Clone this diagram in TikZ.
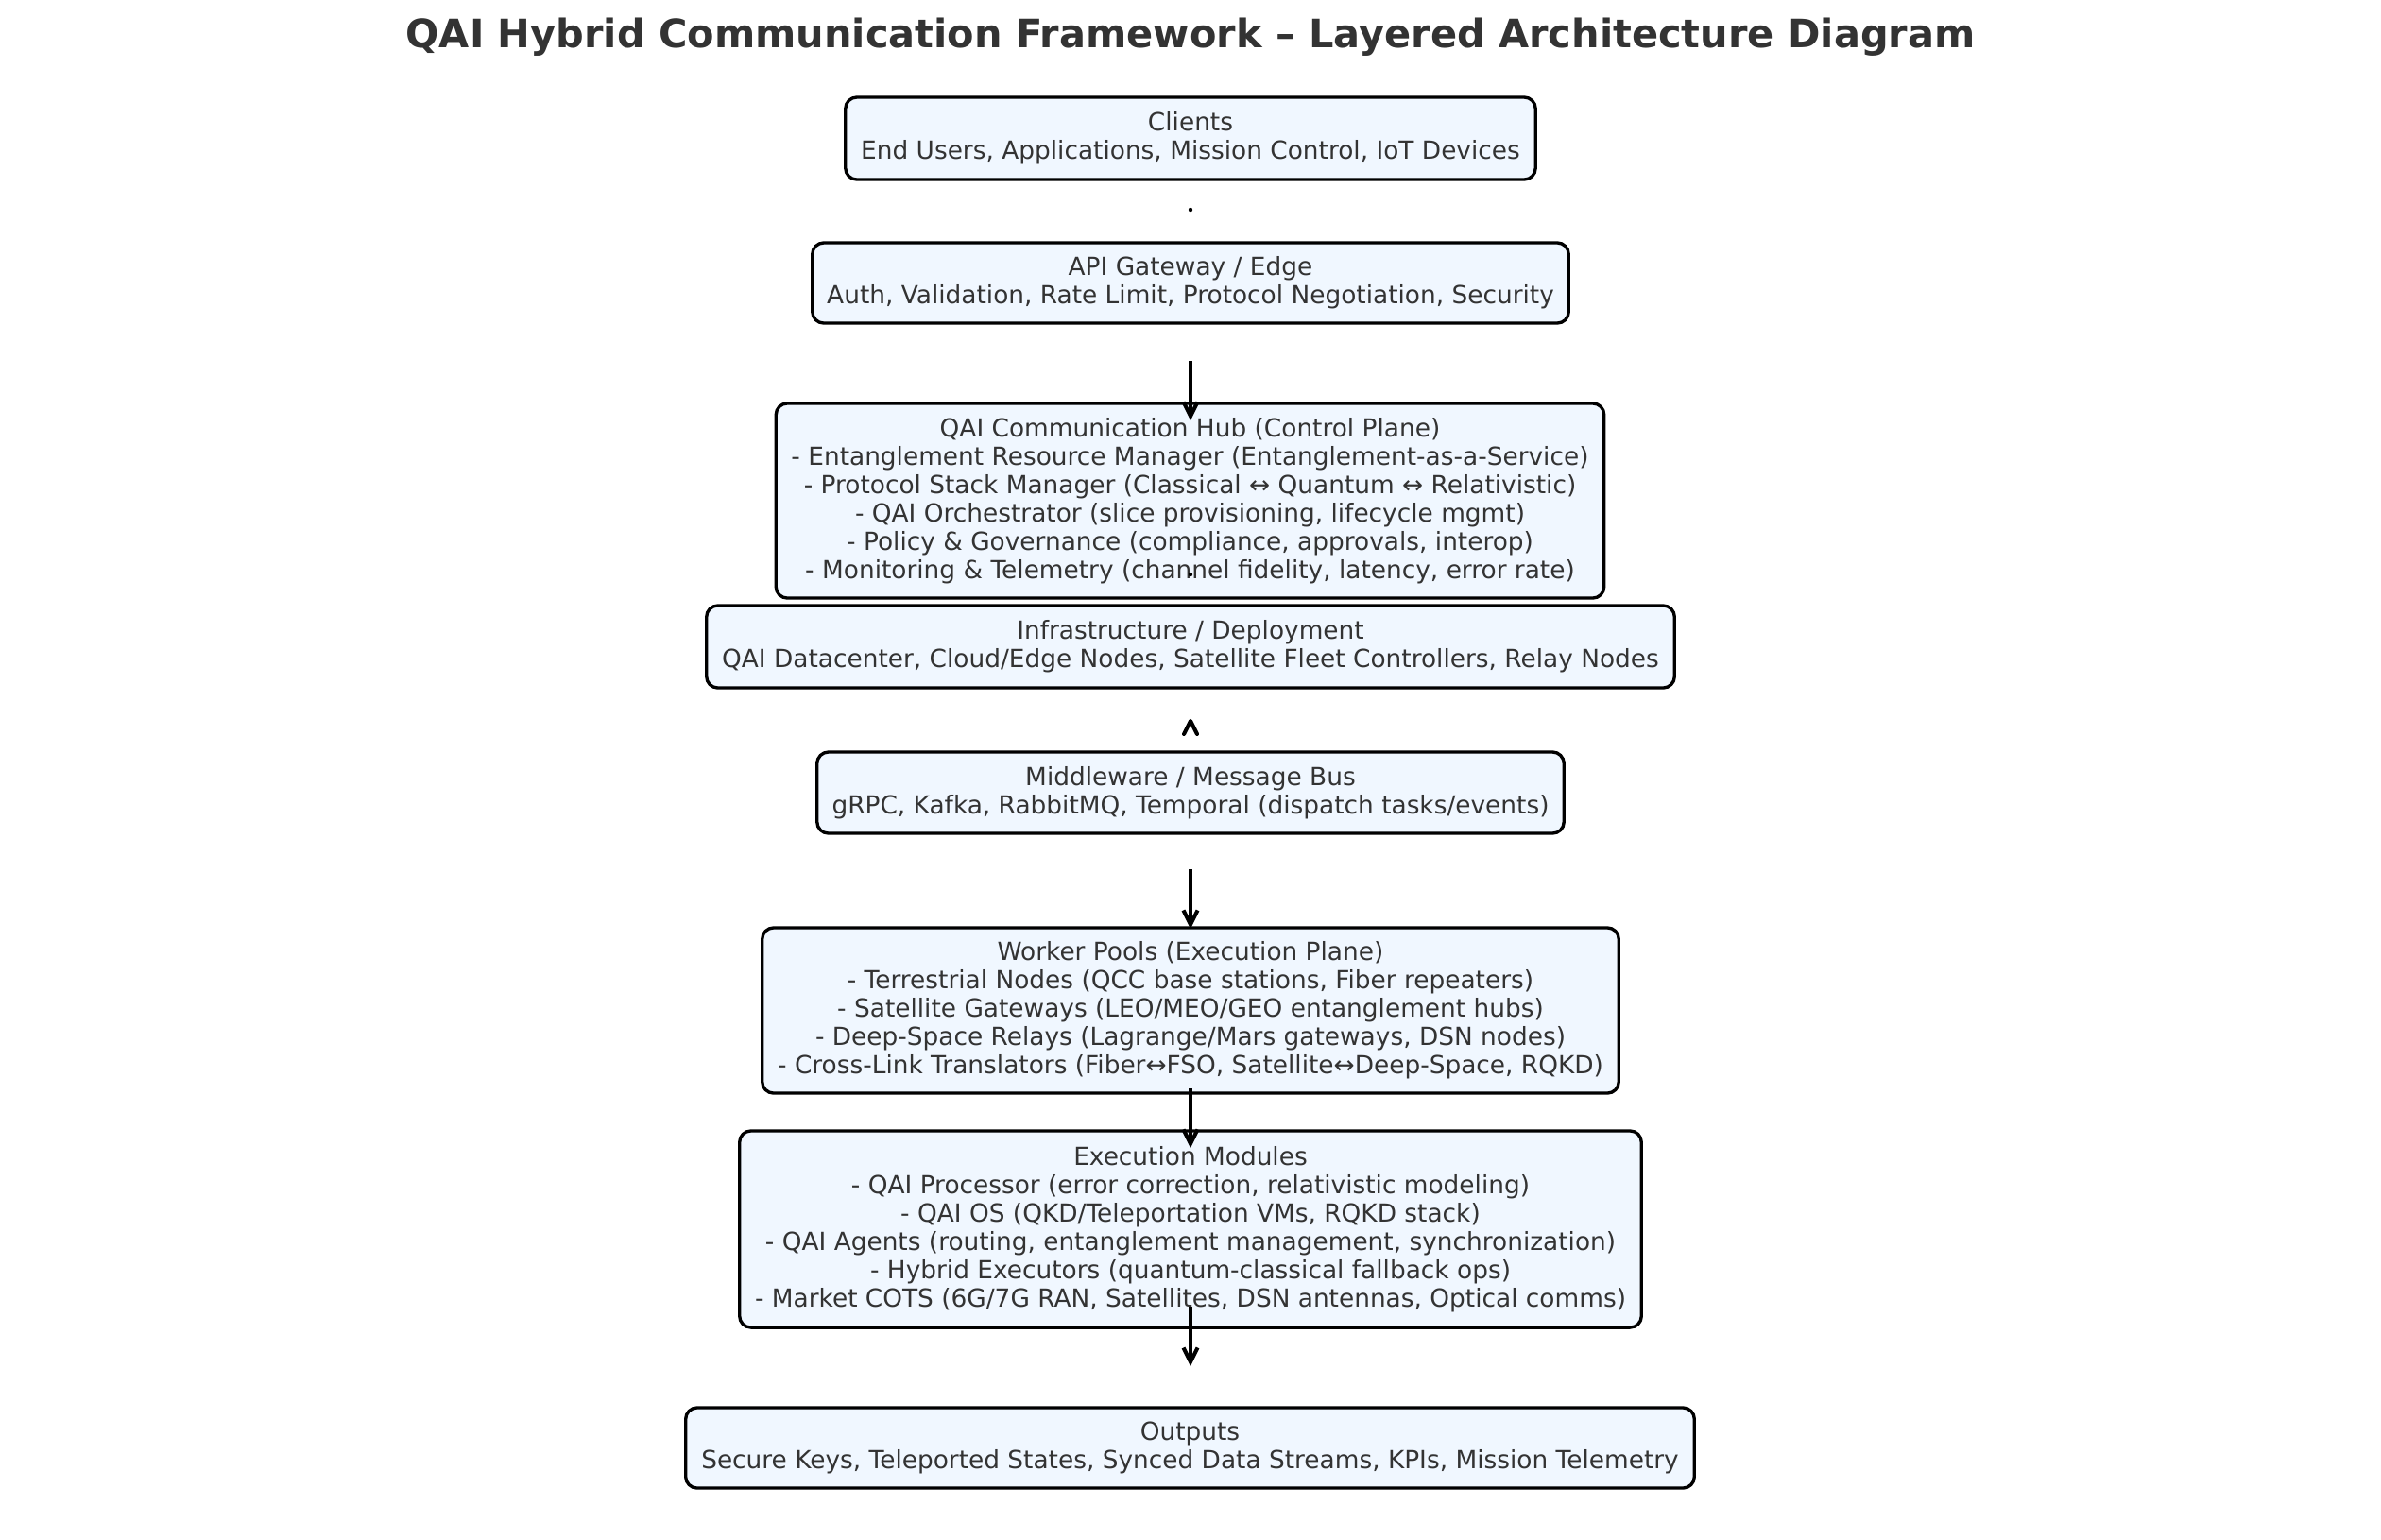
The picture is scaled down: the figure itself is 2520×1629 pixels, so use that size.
\documentclass[tikz,border=0pt]{standalone}
\usepackage{fontspec}
\setmainfont{DejaVu Sans}
\usetikzlibrary{arrows.meta}
\definecolor{boxfill}{HTML}{F0F7FF}
\definecolor{txt}{HTML}{333333}
\begin{document}
\begin{tikzpicture}[x=0.01cm,y=-0.01cm,
  layerbox/.style={draw=black, line width=0.95pt, fill=boxfill, rounded corners=0.12cm,
     align=center, text=txt, font=\fontsize{7.5}{8.55}\selectfont, inner sep=0pt},
  flow/.style={line width=1.15pt, -{Straight Barb[length=0.15cm,width=0.15cm,line width=1.15pt]}}]
\useasboundingbox (0,0) rectangle (2520,1629);
\node[text=txt, font=\fontsize{11.8}{13}\selectfont\bfseries] (title) at (1260,39)
  {QAI Hybrid Communication Framework – Layered Architecture Diagram};
\node[layerbox, minimum width=7.30cm, minimum height=0.87cm] (clients) at (1260,146.5)
  {Clients\\End Users, Applications, Mission Control, IoT Devices};
\node[layerbox, minimum width=8.00cm, minimum height=0.85cm] (api) at (1260,299.5)
  {API Gateway / Edge\\Auth, Validation, Rate Limit, Protocol Negotiation, Security};
\node[layerbox, minimum width=8.76cm, minimum height=2.06cm] (hub) at (1259.5,530)
  {QAI Communication Hub (Control Plane)\\
   - Entanglement Resource Manager (Entanglement-as-a-Service)\\
   - Protocol Stack Manager (Classical ↔ Quantum ↔ Relativistic)\\
   - QAI Orchestrator (slice provisioning, lifecycle mgmt)\\
   - Policy \& Governance (compliance, approvals, interop)\\
   - Monitoring \& Telemetry (channel fidelity, latency, error rate)};
\node[layerbox, minimum width=10.24cm, minimum height=0.87cm] (infra) at (1260,684.5)
  {Infrastructure / Deployment\\QAI Datacenter, Cloud/Edge Nodes, Satellite Fleet Controllers, Relay Nodes};
\node[layerbox, minimum width=7.90cm, minimum height=0.86cm] (mw) at (1260,839)
  {Middleware / Message Bus\\gRPC, Kafka, RabbitMQ, Temporal (dispatch tasks/events)};
\node[layerbox, minimum width=9.06cm, minimum height=1.75cm] (worker) at (1260,1069.5)
  {Worker Pools (Execution Plane)\\
   - Terrestrial Nodes (QCC base stations, Fiber repeaters)\\
   - Satellite Gateways (LEO/MEO/GEO entanglement hubs)\\
   - Deep-Space Relays (Lagrange/Mars gateways, DSN nodes)\\
   - Cross-Link Translators (Fiber↔FSO, Satellite↔Deep-Space, RQKD)};
\node[layerbox, minimum width=9.54cm, minimum height=2.08cm] (exec) at (1260,1301)
  {Execution Modules\\
   - QAI Processor (error correction, relativistic modeling)\\
   - QAI OS (QKD/Teleportation VMs, RQKD stack)\\
   - QAI Agents (routing, entanglement management, synchronization)\\
   - Hybrid Executors (quantum-classical fallback ops)\\
   - Market COTS (6G/7G RAN, Satellites, DSN antennas, Optical comms)};
\node[layerbox, minimum width=10.67cm, minimum height=0.85cm] (outputs) at (1259.5,1532.5)
  {Outputs\\Secure Keys, Teleported States, Synced Data Streams, KPIs, Mission Telemetry};
% connectors (as drawn in the reference)
\coordinate (c1) at (1260,222);
\fill (c1) circle (0.022cm);
\coordinate (a2s) at (1260,382);
\coordinate (a2e) at (1260,445);
\draw[flow] (a2s) -- (a2e);
\coordinate (c3) at (1260,608);
\fill (c3) circle (0.022cm);
\coordinate (c4) at (1260,763);
\draw[line width=1.15pt, line cap=round, line join=round] ([shift={(-7,14)}]c4) -- (c4) -- ([shift={(7,14)}]c4);
\coordinate (a5s) at (1260,920);
\coordinate (a5e) at (1260,983);
\draw[flow] (a5s) -- (a5e);
\coordinate (a6s) at (1260,1152);
\coordinate (a6e) at (1260,1215);
\draw[flow] (a6s) -- (a6e);
\coordinate (a7s) at (1260,1383);
\coordinate (a7e) at (1260,1446);
\draw[flow] (a7s) -- (a7e);
\end{tikzpicture}
\end{document}
